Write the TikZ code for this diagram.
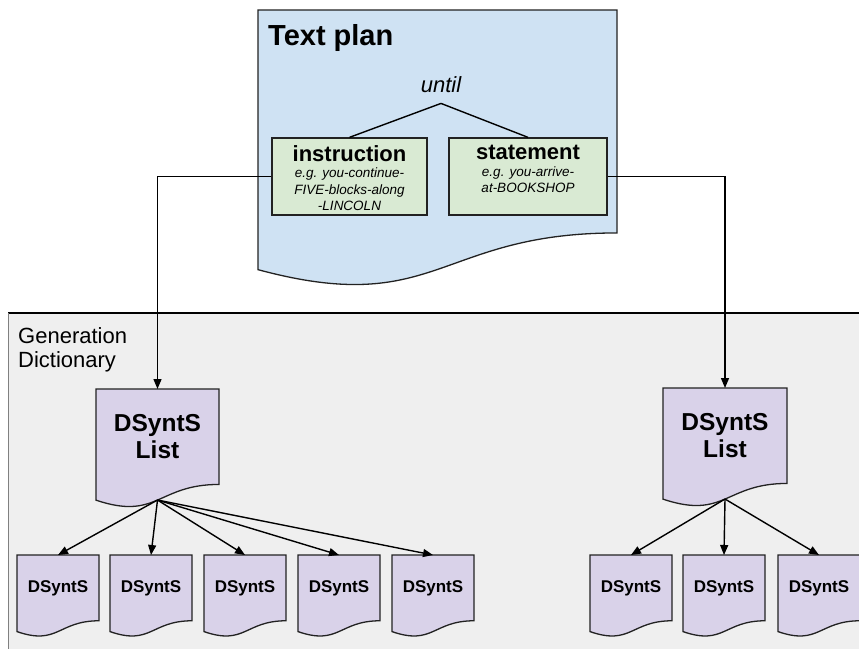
\documentclass[tikz,border=0pt]{standalone}
\usepackage{fontspec}
\setmainfont{Liberation Sans}
\usetikzlibrary{arrows.meta, positioning}

\definecolor{planblue}{HTML}{CFE2F3}
\definecolor{leafgreen}{HTML}{D9EAD3}
\definecolor{dsyntpurple}{HTML}{D9D2E9}
\definecolor{dictgray}{HTML}{EFEFEF}
\definecolor{edge}{HTML}{222222}

\tikzset{
  doc/.style={draw=edge, line width=1.3pt},
  docnode/.style={draw=none, inner sep=0pt, align=center},
  listdoc/.style={fill=dsyntpurple, font=\bfseries\fontsize{24.5}{27}\selectfont},
  itemdoc/.style={fill=dsyntpurple, font=\bfseries\fontsize{17}{20}\selectfont},
  plandoc/.style={fill=planblue},
  greenbox/.style={draw=edge, fill=leafgreen, line width=1.3pt, inner sep=2.5pt, minimum width=155pt, minimum height=77pt},
  conn/.style={line width=1.4pt, -{Triangle[length=10pt,width=8pt]}},
  tree/.style={line width=1.4pt}
}

% document shape: name, left, top, width, height, style, text
\newcommand{\docbox}[7]{%
  \filldraw[doc, #6] (#2,#3) -- ++(#4,0) -- ++(0,{0.802*#5})
    .. controls ({#2+0.5*#4},{#3+0.802*#5}) and ({#2+0.5*#4},{#3+1.108*#5}) .. ({#2},{#3+0.934*#5}) -- cycle;
  \node[docnode, #6, fill=none, minimum width=#4pt, minimum height={0.802*#5pt}, anchor=north] (#1) at ({#2+0.5*#4},#3) {#7};
  \coordinate (#1-b) at ({#2+0.5*#4},{#3+0.933*#5});
}

\begin{document}
\begin{tikzpicture}[x=1pt, y=-1pt]
\useasboundingbox (0,0) rectangle (859,648);
\clip (0,0) rectangle (859,648);

% the generation dictionary area
\fill[dictgray] (8,313) rectangle (880,670);
\draw[line width=1.3pt] (8,313) -- (880,313);
\draw[gray, line width=1pt] (8,313) -- (8,670);
\node[anchor=north west, inner sep=0pt, align=left, font=\fontsize{22}{24}\selectfont] (gendict) at (18,327) {Generation\\Dictionary};

% the text plan
\docbox{plan}{258}{10}{359}{278}{plandoc}{}
\node[anchor=base west, inner sep=0pt, font=\bfseries\fontsize{29}{34}\selectfont] (title) at (268,45) {Text plan};
\node[anchor=base, inner sep=0pt, font=\itshape\fontsize{22}{26}\selectfont] (until) at (441,92) {until};

\node[greenbox] (instr) at (349.5,176.5) {\parbox[c][72pt][t]{150pt}{\centering\vspace*{5pt}%
  {\bfseries\fontsize{22}{22}\selectfont instruction\par}
  {\itshape\fontsize{13.5}{16.5}\selectfont e.g. you-continue-\\FIVE-blocks-along\\-LINCOLN\par}}};
\node[greenbox, minimum width=158pt] (stmt) at (528,176.5) {\parbox[c][72pt][t]{153pt}{\centering\vspace*{5pt}%
  {\bfseries\fontsize{22}{22}\selectfont statement\par}
  {\itshape\fontsize{13.5}{16.5}\selectfont e.g. you-arrive-\\at-BOOKSHOP\par}}};

\draw[tree] ([yshift=-11pt]until.south) -- (instr.north);
\draw[tree] ([yshift=-11pt]until.south) -- (stmt.north);

% the two lists
\docbox{listA}{96}{389}{123}{119}{listdoc}{DSyntS\\List}
\docbox{listB}{663}{388}{124}{119}{listdoc}{DSyntS\\List}

% the single DSyntS
\foreach \x [count=\i] in {17,110,204,298,392}{
  \docbox{dA\i}{\x}{555}{82}{82}{itemdoc}{DSyntS}
}
\foreach \x [count=\i] in {590,683,778}{
  \docbox{dB\i}{\x}{555}{82}{82}{itemdoc}{DSyntS}
}

% connectors
\draw[conn] (instr.west) -| (listA.north);
\draw[conn] (stmt.east) -| (listB.north);
\foreach \i in {1,...,5}
  \draw[conn] (listA-b) -- (dA\i.north);
\foreach \i in {1,2,3}
  \draw[conn] (listB-b) -- (dB\i.north);
\end{tikzpicture}
\end{document}
